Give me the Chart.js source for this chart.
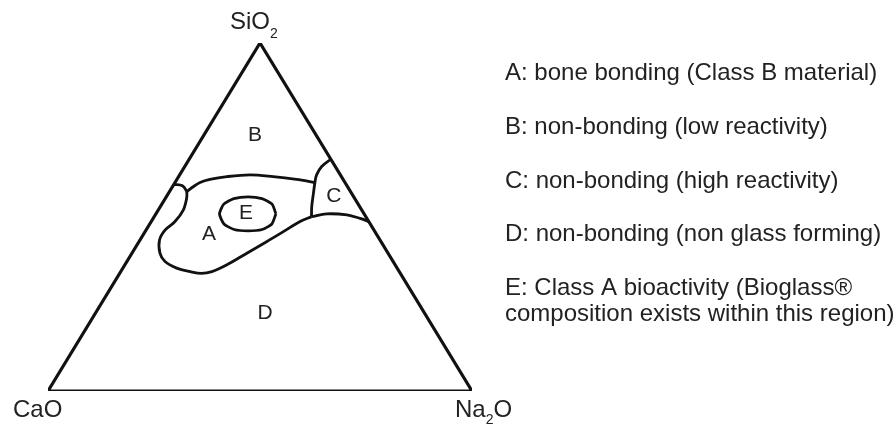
<!DOCTYPE html>
<html lang="en">
<head>
  <meta charset="UTF-8" />
  <title>SiO2 - CaO - Na2O ternary diagram</title>
  <script src="https://cdn.jsdelivr.net/npm/chart.js"></script>
  <style>
    html, body { margin: 0; padding: 0; background: #fff; }
    canvas { display: block; }
  </style>
</head>
<body>
  <canvas id="ternary" width="896" height="427"></canvas>

  <script>
    // compositions as [SiO2 %, Na2O %]; CaO is the remainder
    const triangleEdge = [[0, 0], [0, 100], [100, 0], [0, 0]];
    const bumpLine = [[59.4, 0], [59.0, 2.2], [57.3, 4.1]];
    const upperALine = [[57.3, 4.1], [58.7, 4.9], [59.9, 5.9], [60.8, 7.8], [61.6, 11.4],
                        [62.1, 16.6], [61.6, 22.3], [60.8, 28.2], [59.9, 33.0]];
    const lowerALine = [[57.3, 4.1], [55.4, 5.0], [52.0, 5.9], [48.7, 5.6], [46.3, 4.5],
                        [43.4, 4.6], [39.6, 6.6], [37.2, 9.0], [35.3, 12.7], [34.3, 16.4],
                        [33.8, 19.3], [34.3, 21.5], [36.2, 24.0], [39.6, 27.1], [42.9, 30.1],
                        [45.8, 32.6], [48.7, 35.1], [50.1, 37.1]];
    const cLeftLine = [[66.6, 33.4], [64.5, 32.3], [62.1, 32.3], [59.9, 33.0], [56.8, 34.2],
                       [53.0, 35.7], [50.1, 37.1]];
    const cLowerLine = [[50.1, 37.1], [50.9, 40.3], [50.6, 45.2], [49.6, 48.8], [48.7, 51.3]];
    const eLoop = [[50.9, 28.3], [53.7, 26.0], [55.3, 22.8], [55.8, 19.3], [55.3, 16.2],
                   [53.7, 14.6], [50.9, 15.0], [48.0, 17.5], [46.4, 20.7], [46.0, 24.2],
                   [46.4, 27.3], [48.0, 28.8], [50.9, 28.3]];

    const regionNames = ['A', 'B', 'C', 'D', 'E'];
    const regionSpots = [[45.1, 15.4], [73.6, 12.0], [56.0, 39.4], [22.4, 40.0], [51.0, 21.2]];

    const legendLines = [
      'A: bone bonding (Class B material)',
      'B: non-bonding (low reactivity)',
      'C: non-bonding (high reactivity)',
      'D: non-bonding (non glass forming)',
      'E: Class A bioactivity (Bioglass®',
      'composition exists within this region)'
    ];
    const legendBaselines = [80, 134, 188, 241, 295, 321];

    const toXY = ([s, n]) => ({ x: n + s / 2, y: s });

    function curve(points, width, tension) {
      return {
        data: points.map(toXY),
        showLine: true,
        borderColor: '#111',
        borderWidth: width,
        pointRadius: 0,
        tension: tension,
        fill: false
      };
    }

    const labelPlugin = {
      id: 'ternaryLabels',
      afterDatasetsDraw(chart) {
        const ctx = chart.ctx;
        const sx = chart.scales.x, sy = chart.scales.y;
        ctx.save();
        ctx.fillStyle = '#222';

        // region letters
        ctx.font = '21px "Liberation Sans", Arial, sans-serif';
        ctx.textAlign = 'center';
        ctx.textBaseline = 'middle';
        regionNames.forEach((name, i) => {
          const p = toXY(regionSpots[i]);
          ctx.fillText(name, sx.getPixelForValue(p.x), sy.getPixelForValue(p.y));
        });

        // corner labels
        ctx.textAlign = 'left';
        ctx.textBaseline = 'alphabetic';
        const big = '24px "Liberation Sans", Arial, sans-serif';
        const small = '14px "Liberation Sans", Arial, sans-serif';
        const apexX = sx.getPixelForValue(50), apexY = sy.getPixelForValue(100);
        const baseY = sy.getPixelForValue(0);
        const leftX = sx.getPixelForValue(0), rightX = sx.getPixelForValue(100);

        ctx.font = big;
        let x = apexX - 30;
        ctx.fillText('SiO', x, apexY - 14);
        x += ctx.measureText('SiO').width;
        ctx.font = small;
        ctx.fillText('2', x, apexY - 5);

        ctx.font = big;
        ctx.fillText('CaO', leftX - 35, baseY + 26);

        x = rightX - 17;
        ctx.fillText('Na', x, baseY + 26);
        x += ctx.measureText('Na').width;
        ctx.font = small;
        ctx.fillText('2', x, baseY + 33);
        x += ctx.measureText('2').width;
        ctx.font = big;
        ctx.fillText('O', x, baseY + 26);

        // legend text
        ctx.font = '24px "Liberation Sans", Arial, sans-serif';
        legendLines.forEach((line, i) => {
          ctx.fillText(line, 505, legendBaselines[i]);
        });
        ctx.restore();
      }
    };

    new Chart(document.getElementById('ternary'), {
      type: 'scatter',
      data: {
        datasets: [
          curve(triangleEdge, 3.2, 0),
          curve(bumpLine, 2.8, 0.4),
          curve(upperALine, 2.8, 0.35),
          curve(lowerALine, 2.8, 0.35),
          curve(cLeftLine, 2.8, 0.35),
          curve(cLowerLine, 2.8, 0.35),
          curve(eLoop, 2.8, 0.2)
        ]
      },
      options: {
        responsive: false,
        animation: false,
        layout: { padding: { left: 48, right: 424, top: 43, bottom: 36 } },
        plugins: {
          legend: { display: false },
          tooltip: { enabled: false }
        },
        scales: {
          x: { type: 'linear', min: 0, max: 100, display: false },
          y: { type: 'linear', min: 0, max: 100, display: false }
        }
      },
      plugins: [labelPlugin]
    });
  </script>
</body>
</html>
